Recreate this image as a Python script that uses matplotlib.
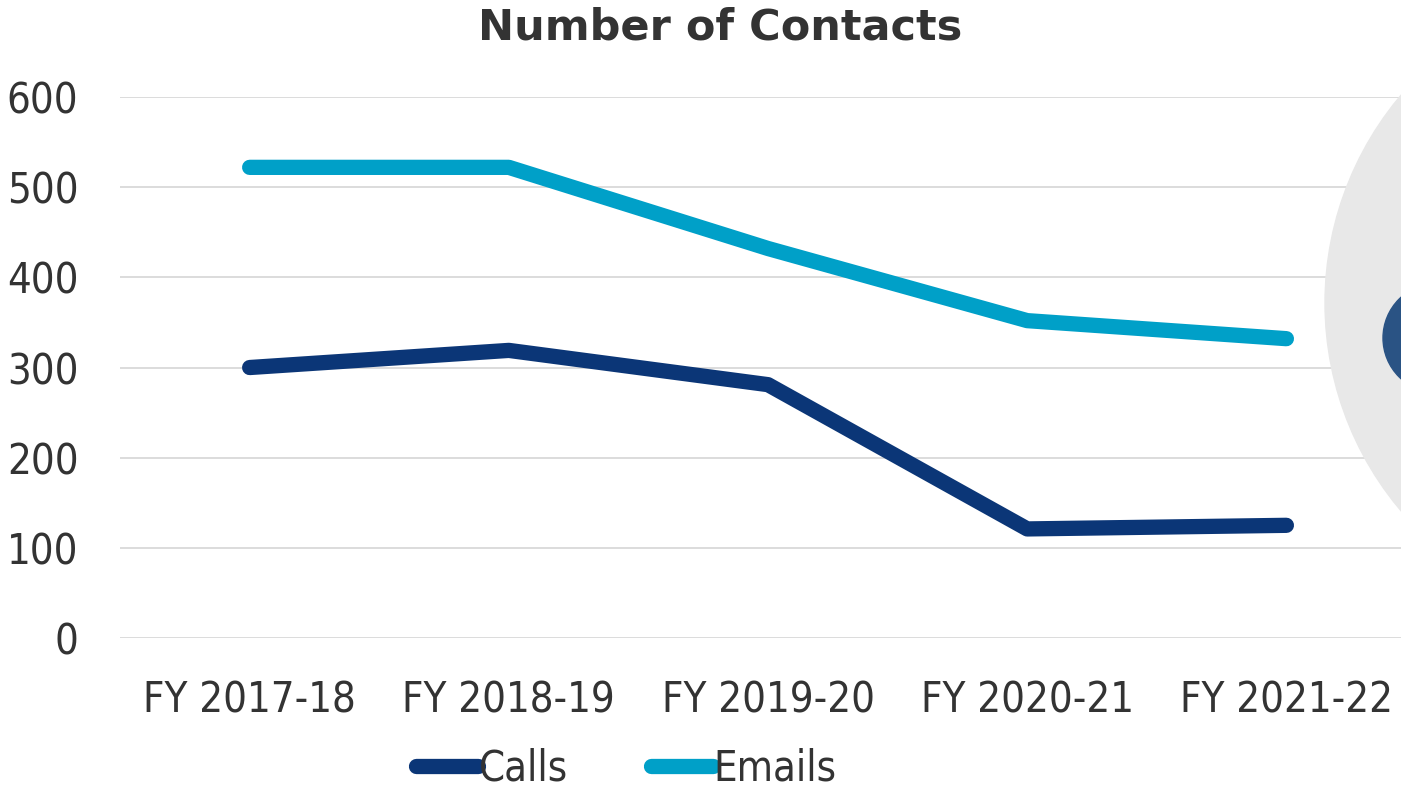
import matplotlib
matplotlib.use('Agg')
import matplotlib.pyplot as plt
from matplotlib.patches import Circle

# Datos
years = ['FY 2017-18', 'FY 2018-19', 'FY 2019-20', 'FY 2020-21', 'FY 2021-22']
calls = [300, 319, 281, 121, 125]
emails = [522, 522, 432, 352, 332]

text_color = '#333333'
plt.rcParams['font.family'] = ['DejaVu Sans']

fig = plt.figure(figsize=(14.01, 7.92), dpi=100)
ax = fig.add_axes([0.0857, 0.1944, 0.925, 0.6831])

ax.plot(years, calls, color='#0b3677', lw=11, solid_capstyle='round',
        solid_joinstyle='round', label='Calls', zorder=3)
ax.plot(years, emails, color='#00a0c8', lw=11, solid_capstyle='round',
        solid_joinstyle='round', label='Emails', zorder=3)

ax.set_ylim(0, 600)
ax.set_xlim(-0.5, 4.5)
ax.set_yticks(range(0, 601, 100))
ax.grid(axis='y', color='#d9d9d9', lw=1.3)
ax.set_axisbelow(True)
for s in ax.spines.values():
    s.set_visible(False)
ax.tick_params(length=0, labelsize=30, labelcolor=text_color)
ax.tick_params(axis='y', pad=30)
ax.tick_params(axis='x', pad=30)
for lbl in ax.get_xticklabels() + ax.get_yticklabels():
    lbl.set_fontstretch('condensed')

fig.text(0.514, 0.965, 'Number of Contacts', ha='center', va='center',
         fontsize=31, fontweight='bold', color=text_color)

leg = fig.legend(loc='center', bbox_to_anchor=(0.447, 0.030), ncol=2,
                 frameon=False, fontsize=30, handlelength=1.5,
                 handletextpad=0.0, columnspacing=2.0, borderaxespad=0)
for t in leg.get_texts():
    t.set_color(text_color)
    t.set_fontstretch('condensed')

# decoracion a la derecha (circulo gris y figura azul), en pulgadas
fig.patches.append(Circle((16.47, 4.89), 3.22,
                          transform=fig.dpi_scale_trans, color='#e8e8e8',
                          zorder=2))
fig.patches.append(Circle((14.38, 4.54), 0.55,
                          transform=fig.dpi_scale_trans, color='#2a5384',
                          zorder=2))

fig.savefig('out.png', dpi=100, facecolor='white')
